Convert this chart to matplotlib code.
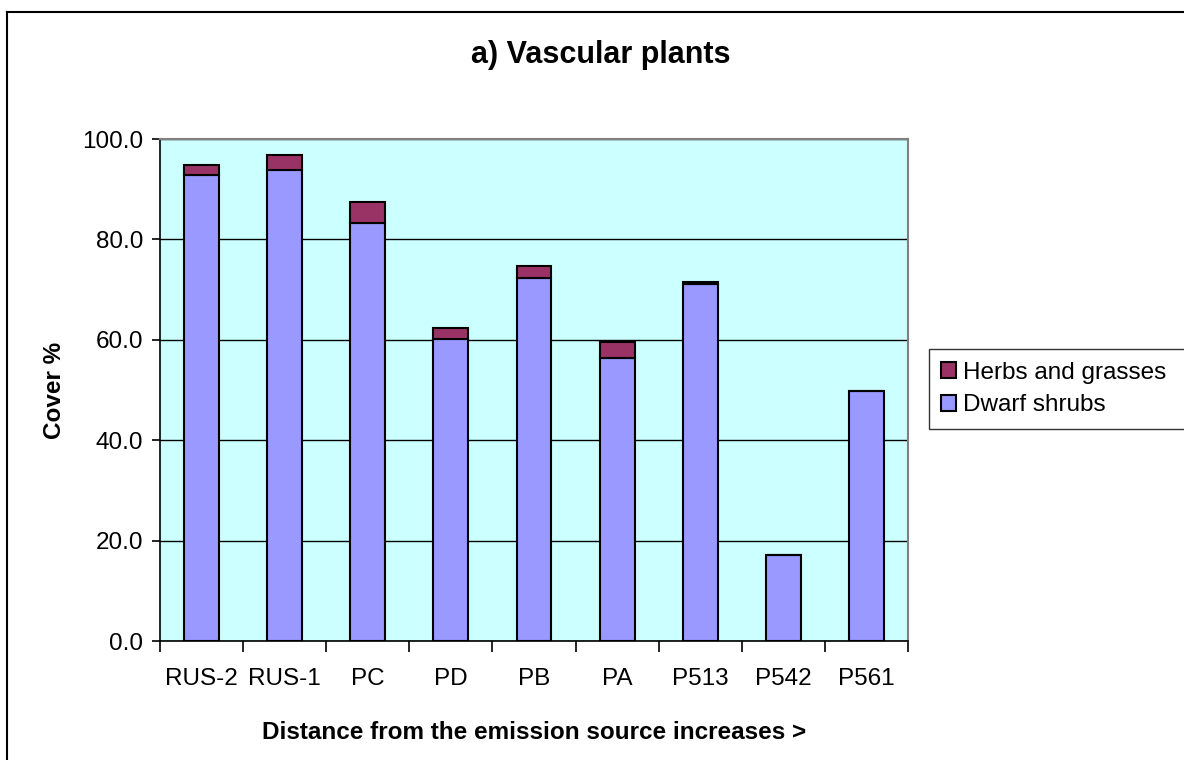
import matplotlib
matplotlib.use("Agg")
from matplotlib import pyplot as plt
from matplotlib.lines import Line2D
import numpy as np

plt.rcParams['font.family'] = ['Liberation Sans', 'DejaVu Sans']

sites = ["RUS-2", "RUS-1", "PC", "PD", "PB", "PA", "P513", "P542", "P561"]
dwarf_shrubs = [92.9, 93.8, 83.2, 60.2, 72.4, 56.4, 71.1, 17.1, 49.8]
herbs_grasses = [2.0, 3.1, 4.3, 2.1, 2.4, 3.2, 0.4, 0.0, 0.0]

fig = plt.figure(figsize=(11.84, 7.6), dpi=100)
ax = fig.add_axes([160 / 1184, 1 - 641 / 760, 748 / 1184, 502 / 760])   # plot area
ax.set_facecolor("#CCFFFF")

x = np.arange(len(sites))
ax.bar(x, dwarf_shrubs, width=0.42, color="#9999FF", edgecolor="black", linewidth=1.5,
       label="Dwarf shrubs", zorder=3)
ax.bar(x, herbs_grasses, width=0.42, bottom=dwarf_shrubs, color="#993366",
       edgecolor="black", linewidth=1.5, label="Herbs and grasses", zorder=3)

ax.set_xlim(-0.5, len(sites) - 0.5)
ax.set_ylim(0, 100)
ax.set_yticks(np.arange(0, 101, 20))
ax.set_yticklabels([f"{v:.1f}" for v in np.arange(0, 101, 20)], fontsize=17.5)
ax.yaxis.grid(True, color="black", linewidth=1, zorder=1)
ax.set_axisbelow(True)

ax.set_xticks(x)
ax.set_xticklabels(sites, fontsize=17.5)
ax.set_xticks(np.arange(-0.5, len(sites), 1), minor=True)
ax.tick_params(axis="x", which="major", length=0, pad=19.5)
ax.tick_params(axis="x", which="minor", length=8, width=1.2, direction="out")
ax.tick_params(axis="y", length=6, width=1.2, direction="out", pad=6)

for s in ["top", "right"]:
    ax.spines[s].set_color("#808080")
    ax.spines[s].set_linewidth(1.5)
for s in ["left", "bottom"]:
    ax.spines[s].set_color("black")
    ax.spines[s].set_linewidth(1.2)

ax.set_ylabel("Cover %", fontsize=17.5, fontweight="bold", labelpad=12)
ax.set_xlabel("Distance from the emission source increases >", fontsize=17.5,
              fontweight="bold", labelpad=22)
fig.text(601 / 1184, 1 - 55 / 760, "a) Vascular plants", ha="center", va="center",
         fontsize=22, fontweight="bold")

handles, labels = ax.get_legend_handles_labels()
leg = fig.legend(handles[::-1], labels[::-1], loc="center left",
                 bbox_to_anchor=(929 / 1184, 1 - 389 / 760, (1190 - 929) / 1184, 0),
                 mode="expand", fontsize=17.5,
                 frameon=True, fancybox=False, edgecolor="black",
                 handlelength=0.6, handleheight=0.6, handletextpad=0.3,
                 labelspacing=0.45, borderpad=0.5, borderaxespad=0)
leg.get_frame().set_linewidth(1.0)

# chart border (top and left edges visible in the crop)
fig.add_artist(Line2D([7 / 1184, 7 / 1184], [0, 1 - 12 / 760], transform=fig.transFigure,
                      color="black", linewidth=1.5))
fig.add_artist(Line2D([7 / 1184, 1], [1 - 12 / 760, 1 - 12 / 760], transform=fig.transFigure,
                      color="black", linewidth=1.5))

fig.savefig("out.png", dpi=100, facecolor="white")
